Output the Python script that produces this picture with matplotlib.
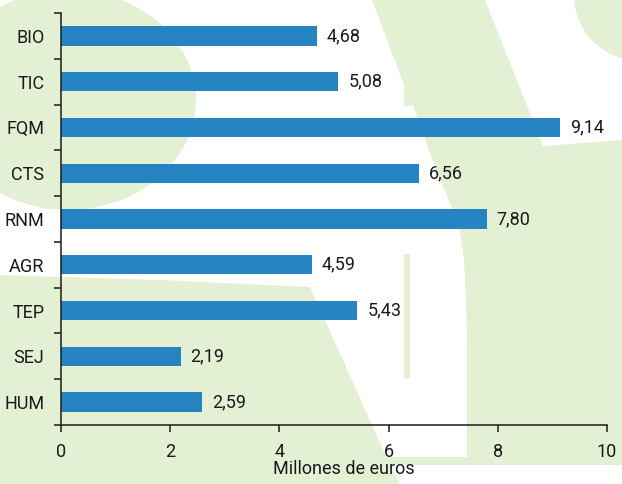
import matplotlib
matplotlib.use('Agg')
import matplotlib.pyplot as plt
from matplotlib.patches import Ellipse, Polygon, Circle, Rectangle

categories = ['BIO', 'TIC', 'FQM', 'CTS', 'RNM', 'AGR', 'TEP', 'SEJ', 'HUM']
values = [4.68, 5.08, 9.14, 6.56, 7.80, 4.59, 5.43, 2.19, 2.59]
x_ticks = [0, 2, 4, 6, 8, 10]

BAR = '#2784c2'
LEAF = '#e4f0d4'
INK = '#1a1a1a'
FS = 13

plt.rcParams['font.family'] = ['Roboto', 'DejaVu Sans']

W, H = 622, 484
fig = plt.figure(figsize=(W / 100, H / 100), dpi=100)

# light green logo shapes in the background, in pixel units
bg = fig.add_axes([0, 0, 1, 1])
bg.set_xlim(0, W)
bg.set_ylim(H, 0)
bg.axis('off')
bg.add_patch(Ellipse((68, 100), 256, 220, color=LEAF, lw=0))
bg.add_patch(Polygon([(0, 275), (160, 280), (310, 287), (390, 465), (400, H), (0, H)],
                     color=LEAF, lw=0))
bg.add_patch(Rectangle((370, 457), W - 370, 8, color=LEAF, lw=0))
bg.add_patch(Polygon([(372, 0), (404, 85), (404, 106), (413, 106), (440, 180),
                      (453, 210), (460, 232), (464, 260), (466, 300), (467, 340),
                      (467, 465), (W, 465), (W, 140), (543, 146), (485, 0)],
                     color=LEAF, lw=0))
bg.add_patch(Rectangle((404, 254), 6, 125, color=LEAF, lw=0))
bg.add_patch(Circle((640, -5), 66, color=LEAF, lw=0))

ax = fig.add_axes([61 / W, 1 - 425 / H, (607 - 61) / W, (425 - 13) / H])
ax.patch.set_alpha(0)

ypos = list(range(len(categories)))
ax.barh(ypos, values, height=0.42, color=BAR)
for y, v in zip(ypos, values):
    ax.text(v + 0.18, y, f'{v:.2f}'.replace('.', ','), va='center', ha='left',
            fontsize=FS, color=INK)

ax.set_xlim(0, 10)
ax.set_ylim(len(categories) - 0.5, -0.5)
ax.set_xticks(x_ticks)
ax.set_xticklabels([str(t) for t in x_ticks])
ax.set_yticks(ypos)
ax.set_yticklabels(categories)
ax.set_yticks([i - 0.5 for i in range(len(categories) + 1)], minor=True)

ax.tick_params(axis='y', which='major', length=0, pad=12, labelsize=FS, labelcolor=INK)
ax.tick_params(axis='y', which='minor', length=5, width=1.1, color=INK)
ax.tick_params(axis='x', length=5, width=1.1, color=INK, pad=8, labelsize=FS,
               labelcolor=INK)

for side in ['top', 'right']:
    ax.spines[side].set_visible(False)
for side in ['left', 'bottom']:
    ax.spines[side].set_linewidth(1.1)
    ax.spines[side].set_color(INK)

ax.set_xlabel('Millones de euros', fontsize=FS, color=INK)
ax.xaxis.set_label_coords(0.518, -0.085)

fig.savefig('out.png', dpi=100)
